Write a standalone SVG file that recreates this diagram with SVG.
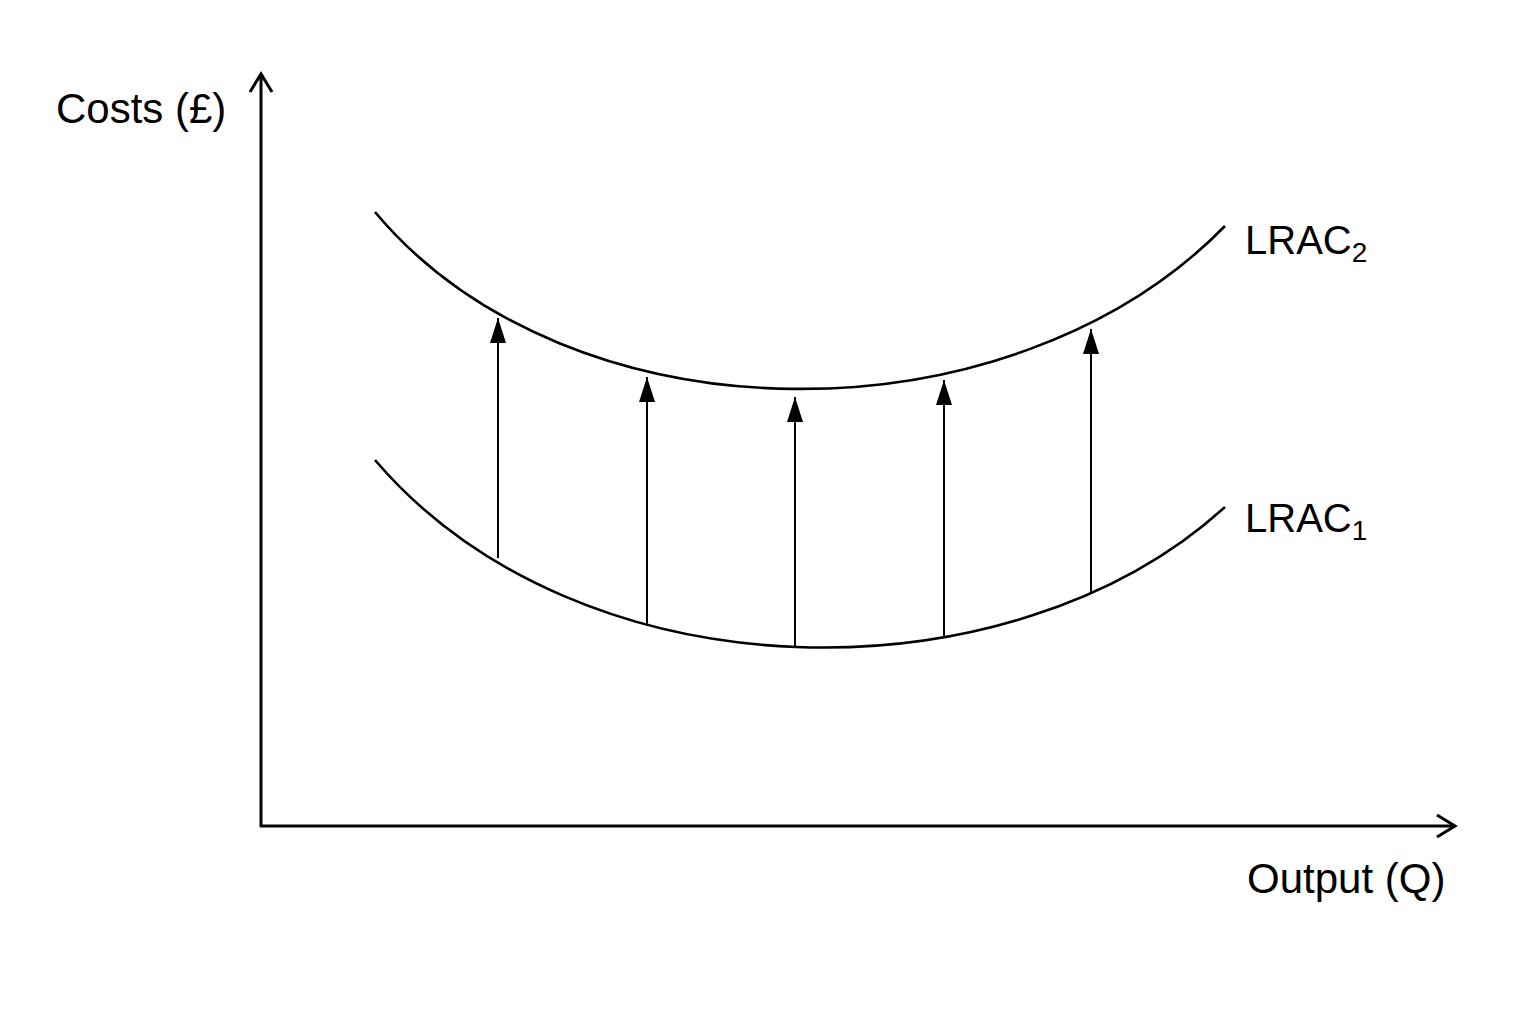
<svg xmlns="http://www.w3.org/2000/svg" width="1536" height="1024" viewBox="0 0 1536 1024">
<style>
.ax{stroke:#000;stroke-width:3;fill:none}
.cv{stroke:#000;stroke-width:2.6;fill:none}
.ar{stroke:#000;stroke-width:2;fill:none}
.t{font-family:"Liberation Sans",Arial,sans-serif;font-size:40px;fill:#000}
.big{font-size:42px}
.s{font-size:28px}
</style>
<defs>
<marker id="open" markerUnits="userSpaceOnUse" markerWidth="40" markerHeight="40" refX="20" refY="20" orient="auto" overflow="visible">
<path d="M2,9 L20,20 L2,31" fill="none" stroke="#000" stroke-width="3"/>
</marker>
<marker id="fill" markerUnits="userSpaceOnUse" markerWidth="30" markerHeight="30" refX="25" refY="8" orient="auto" overflow="visible">
<path d="M0,0 L25,8 L0,16 Z" fill="#000"/>
</marker>
</defs>
<rect width="1536" height="1024" fill="#fff"/>
<g id="axes">
<line class="ax" x1="261" y1="827" x2="261" y2="74" marker-end="url(#open)"/>
<line class="ax" x1="260" y1="826" x2="1455" y2="826" marker-end="url(#open)"/>
</g>
<g id="LRAC2">
<path class="cv" d="M375,212 C570,445 1010,446 1225,226"/>
<text class="t" x="1245" y="254">LRAC<tspan class="s" dy="8">2</tspan></text>
</g>
<g id="LRAC1">
<path class="cv" d="M375,460 C580,700 1010,703 1225,507"/>
<text class="t" x="1245" y="532">LRAC<tspan class="s" dy="8">1</tspan></text>
</g>
<g id="connectors">
<line class="ar" x1="498" y1="558" x2="498" y2="318" marker-end="url(#fill)"/>
<line class="ar" x1="647" y1="624" x2="647" y2="377" marker-end="url(#fill)"/>
<line class="ar" x1="795" y1="646" x2="795" y2="397" marker-end="url(#fill)"/>
<line class="ar" x1="944" y1="637" x2="944" y2="380" marker-end="url(#fill)"/>
<line class="ar" x1="1091" y1="593" x2="1091" y2="329" marker-end="url(#fill)"/>
</g>
<g id="labels">
<text class="t big" x="56" y="123">Costs (£)</text>
<text class="t big" x="1247" y="893">Output (Q)</text>
</g>
</svg>
